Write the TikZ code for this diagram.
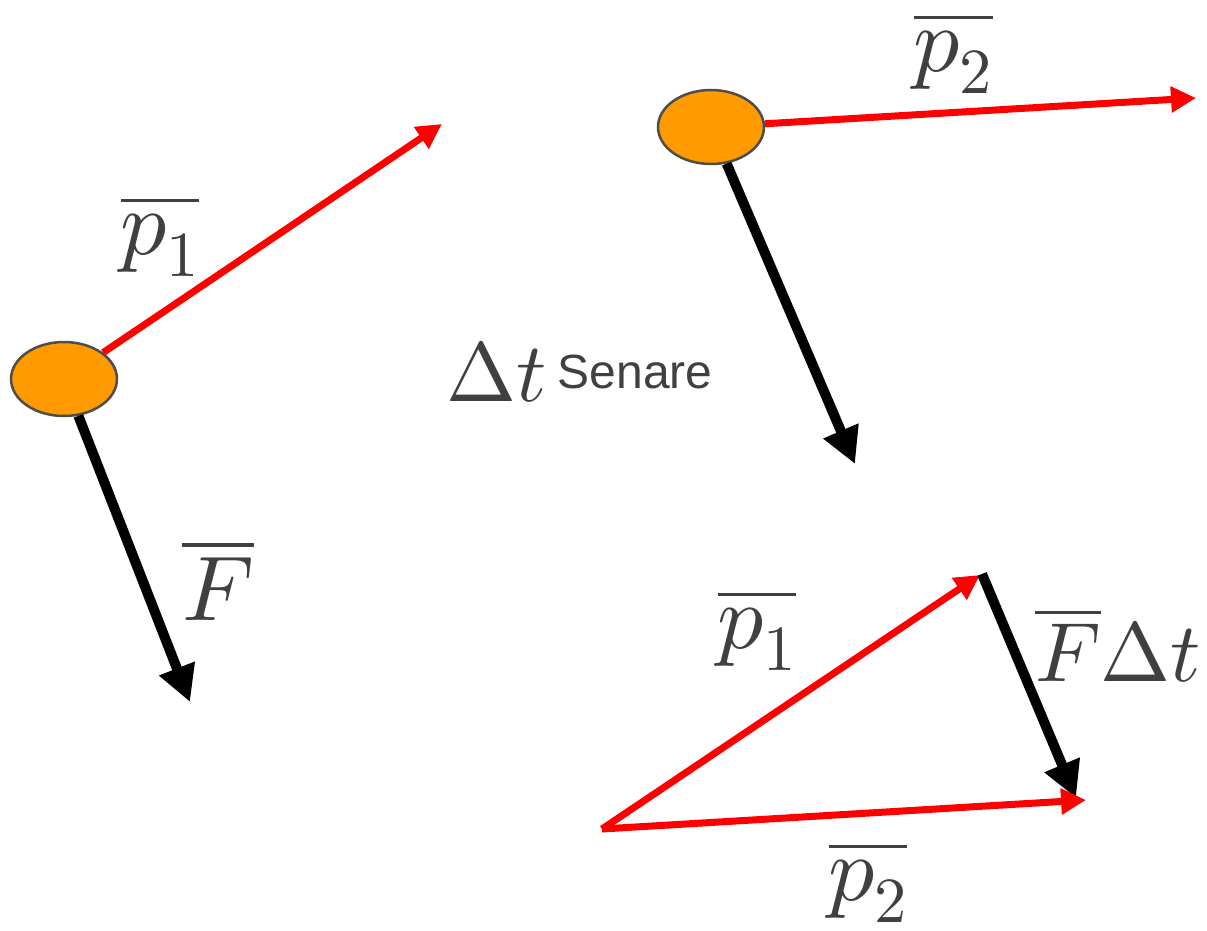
\documentclass[tikz,border=0pt]{standalone}
\usepackage{fontspec}
\usepackage{unicode-math}
\setmathfont{Latin Modern Math}
\newfontfamily\senarefont{Liberation Sans}
\usetikzlibrary{arrows.meta,shapes.geometric}
\definecolor{ballorange}{HTML}{FF9B00}
\definecolor{balledge}{HTML}{4D4D4D}
\definecolor{labelgray}{HTML}{404040}
\definecolor{vecred}{HTML}{FF0000}
\tikzset{
  ball/.style={ellipse, draw=balledge, line width=2.5pt, fill=ballorange, minimum width=106pt, minimum height=74pt, inner sep=0pt},
  redvec/.style={draw=vecred, line width=7pt, -{Triangle[length=25pt,width=25pt]}},
  blackvec/.style={draw=black, line width=10pt, -{Triangle[length=36pt,width=36pt]}},
  mathlbl/.style={text=labelgray, font=\fontsize{92}{100}\selectfont, inner sep=0pt},
  smallmath/.style={text=labelgray, font=\fontsize{84}{90}\selectfont, inner sep=0pt},
  wordlbl/.style={text=labelgray, font=\senarefont\fontsize{48}{56}\selectfont, inner sep=0pt}
}
\begin{document}
\begin{tikzpicture}[x=1pt,y=-1pt]
\useasboundingbox (0,0) rectangle (1207,931);
% first and second state: balls and end points
\node[ball] (e1) at (64,379) {};
\node[ball] (e2) at (711,127) {};
\coordinate (t1) at (442,124);
\coordinate (t2) at (190,702);
\coordinate (t3) at (1196,98);
\coordinate (t4) at (855,464);
\draw[redvec] (e1) -- (t1);
\draw[blackvec] (e1) -- (t2);
\draw[redvec] (e2) -- (t3);
\draw[blackvec] (e2) -- (t4);
% triangle
\coordinate (A) at (602,829);
\coordinate (B) at (980,575);
\coordinate (Bs) at (982,574);
\coordinate (C) at (1086,800);
\coordinate (Ct) at (1076,798);
\draw[redvec] (A) -- (B);
\draw[blackvec] (Bs) -- (Ct);
\draw[redvec] (A) -- (C);
% labels
\node[mathlbl] (lp1) at (160,236) {$\overline{p_1}$};
\node[mathlbl] (lF) at (218,580) {$\overline{F}$};
\node[mathlbl] (lp2) at (953,53) {$\overline{p_2}$};
\node[smallmath] (ldt) at (497,372) {$\Delta t$};
\node[wordlbl] (lsen) at (635,372) {Senare};
\node[mathlbl] (lp1b) at (757,630) {$\overline{p_1}$};
\node[smallmath, anchor=east] (lFdt) at (1201,645) {$\overline{F}\Delta t$};
\node[mathlbl] (lp2b) at (868,882) {$\overline{p_2}$};
\end{tikzpicture}
\end{document}
